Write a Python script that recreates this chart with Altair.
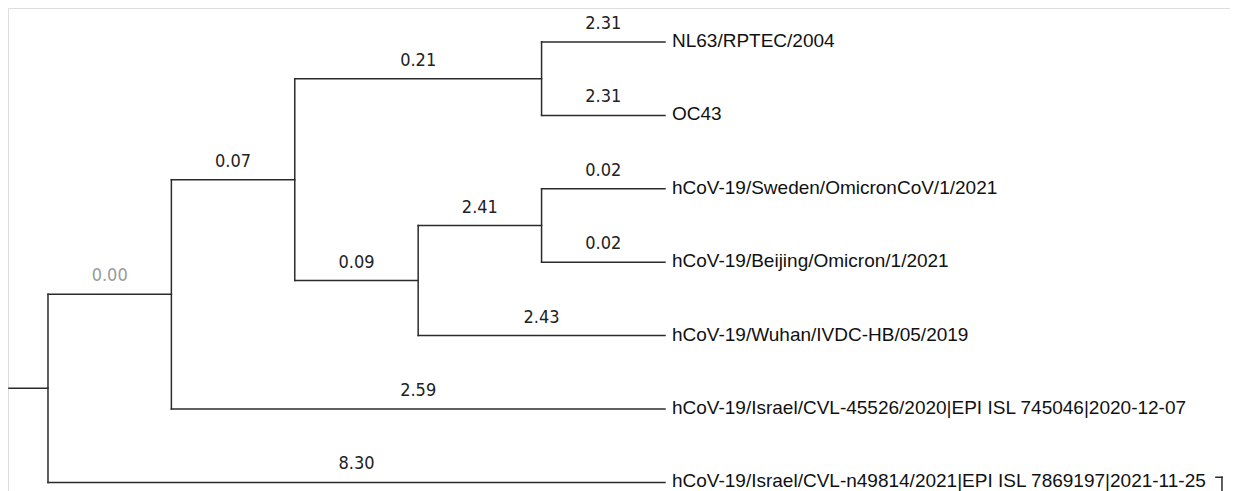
import altair as alt
import pandas as pd

# ---- data -------------------------------------------------------------
tip_names = [
    "NL63/RPTEC/2004",
    "OC43",
    "hCoV-19/Sweden/OmicronCoV/1/2021",
    "hCoV-19/Beijing/Omicron/1/2021",
    "hCoV-19/Wuhan/IVDC-HB/05/2019",
    "hCoV-19/Israel/CVL-45526/2020|EPI ISL 745046|2020-12-07",
    "hCoV-19/Israel/CVL-n49814/2021|EPI ISL 7869197|2021-11-25",
]
tip_branch_labels = ["2.31", "2.31", "0.02", "0.02", "2.43", "2.59", "8.30"]
tip_parents = ["C", "C", "E", "E", "D", "A", "root"]

node_ids = ["root", "A", "B", "C", "D", "E"]
node_parents = [None, "root", "A", "B", "B", "D"]
node_levels = [0, 1, 2, 4, 3, 4]
node_branch_labels = [None, "0.00", "0.07", "0.21", "0.09", "2.41"]
node_label_colors = [None, "#9a9a9a", "#222222", "#222222", "#222222", "#222222"]

tip_level = 5
root_stub_start = -0.316

# small bracket mark at the bottom-right corner of the picture
bracket_x = [9.465, 9.514, 9.514]
bracket_y = [5.93, 5.93, 6.12]

# ---- layout (classic cladogram: y of node = midpoint of its children) --
level = {n: l for n, l in zip(node_ids, node_levels)}
parent = {n: p for n, p in zip(node_ids, node_parents)}
ypos = {}
children = {n: [] for n in node_ids}
for i, (t, p) in enumerate(zip(tip_names, tip_parents)):
    ypos[t] = float(i)
    level[t] = tip_level
    parent[t] = p
    children[p].append(t)
for n, p in zip(node_ids, node_parents):
    if p is not None:
        children[p].append(n)


def get_y(n):
    if n not in ypos:
        ys = [get_y(c) for c in children[n]]
        ypos[n] = (min(ys) + max(ys)) / 2
    return ypos[n]


for n in node_ids:
    get_y(n)

segs = []
for n in list(node_ids) + tip_names:
    p = parent[n]
    if p is not None:
        segs.append(dict(x=level[p], x2=level[n], y=ypos[n], y2=ypos[n]))
for n in node_ids:
    ys = [ypos[c] for c in children[n]]
    segs.append(dict(x=level[n], x2=level[n], y=min(ys), y2=max(ys)))
segs.append(dict(x=root_stub_start, x2=0, y=ypos["root"], y2=ypos["root"]))
segs.append(dict(x=bracket_x[0], x2=bracket_x[1], y=bracket_y[0], y2=bracket_y[1]))
segs.append(dict(x=bracket_x[1], x2=bracket_x[2], y=bracket_y[1], y2=bracket_y[2]))
seg_df = pd.DataFrame(segs)

blab = []
for n, lab, col in zip(node_ids, node_branch_labels, node_label_colors):
    if lab is not None:
        blab.append(dict(x=(level[parent[n]] + level[n]) / 2, y=ypos[n], text=lab, color=col))
for t, lab in zip(tip_names, tip_branch_labels):
    blab.append(dict(x=(level[parent[t]] + level[t]) / 2, y=ypos[t], text=lab, color="#222222"))
blab_df = pd.DataFrame(blab)

tip_df = pd.DataFrame(dict(x=[tip_level] * len(tip_names), y=[ypos[t] for t in tip_names], text=tip_names))

# ---- chart -------------------------------------------------------------
W, H = 1222, 483
PX_PER_TIP = 73.4
y0 = -34 / PX_PER_TIP
xs = alt.Scale(domain=[-0.324, 9.579], nice=False, zero=False)
ys = alt.Scale(domain=[y0, y0 + H / PX_PER_TIP], nice=False, zero=False, reverse=True)

lines = alt.Chart(seg_df).mark_rule(color="#2b2b2b", strokeWidth=1.5, strokeCap="square", clip=False).encode(
    x=alt.X("x:Q", scale=xs, axis=None),
    x2="x2:Q",
    y=alt.Y("y:Q", scale=ys, axis=None),
    y2="y2:Q",
)

branch_text = alt.Chart(blab_df).mark_text(
    font="DejaVu Sans Condensed, DejaVu Sans", fontSize=18, align="center", baseline="alphabetic", dy=-13
).encode(
    x=alt.X("x:Q", scale=xs, axis=None),
    y=alt.Y("y:Q", scale=ys, axis=None),
    text="text:N",
    color=alt.Color("color:N", scale=None),
)

tip_text = alt.Chart(tip_df).mark_text(
    font="Liberation Sans", fontSize=19, align="left", baseline="middle", dx=7, dy=-1, color="#111111"
).encode(
    x=alt.X("x:Q", scale=xs, axis=None),
    y=alt.Y("y:Q", scale=ys, axis=None),
    text="text:N",
)

chart = (
    alt.layer(lines, branch_text, tip_text)
    .properties(width=W, height=H, autosize=alt.AutoSizeParams(type="none"), padding=0)
    .configure_view(stroke=None)
    .configure(background="white")
)

chart.save("out.html", embed_options={"renderer": "svg", "actions": False})
